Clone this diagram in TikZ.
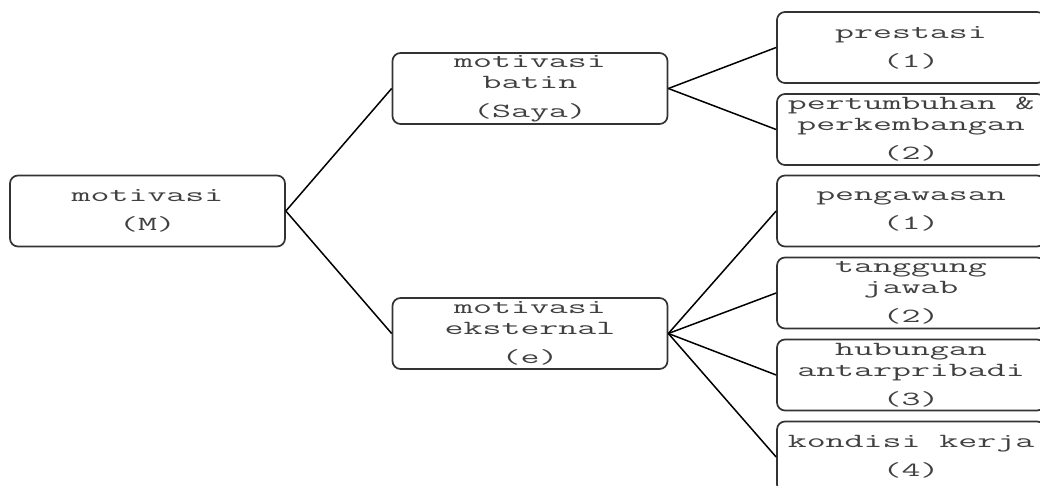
\documentclass[tikz,border=0pt]{standalone}
\usepackage{fontspec}
\newfontfamily\boxfont[FakeStretch=1.84]{Latin Modern Mono}
\begin{document}
\begin{tikzpicture}[x=1pt,y=-1pt]
\tikzstyle{box}=[draw=black!80, line width=1.7pt, rounded corners=8pt, inner sep=0pt, align=center, minimum height=71pt, text=black!75, font=\boxfont\fontsize{20}{21}\selectfont]
\tikzstyle{wide}=[box, minimum width=275pt]
\tikzstyle{leaf}=[box, minimum width=268pt]
\tikzstyle{link}=[line width=1.5pt, black]
\useasboundingbox (0,0) rectangle (1040,486);
% left column
\node[wide] (mot) at (147.5,211) {motivasi\\[8pt](M)};
\node[wide] (batin) at (530,88.5) {motivasi\\batin\\[8pt](Saya)};
\node[wide] (ekst) at (530,333.5) {motivasi\\eksternal\\[8pt](e)};
% right column
\node[leaf] (prest) at (911,47.5) {prestasi\\[8pt](1)};
\node[leaf] (tumbuh) at (911,129.5) {pertumbuhan \&\\perkembangan\\[8pt](2)};
\node[leaf] (awas) at (911,211) {pengawasan\\[8pt](1)};
\node[leaf] (tangg) at (911,293) {tanggung\\jawab\\[8pt](2)};
\node[leaf] (hubung) at (911,375) {hubungan\\antarpribadi\\[8pt](3)};
\node[leaf] (kondisi) at (911,457) {kondisi kerja\\[8pt](4)};
% connectors
\draw[link] (mot.east) -- (batin.west);
\draw[link] (mot.east) -- (ekst.west);
\draw[link] (batin.east) -- (prest.west);
\draw[link] (batin.east) -- (tumbuh.west);
\draw[link] (ekst.east) -- (awas.west);
\draw[link] (ekst.east) -- (tangg.west);
\draw[link] (ekst.east) -- (hubung.west);
\draw[link] (ekst.east) -- (kondisi.west);
\end{tikzpicture}
\end{document}
